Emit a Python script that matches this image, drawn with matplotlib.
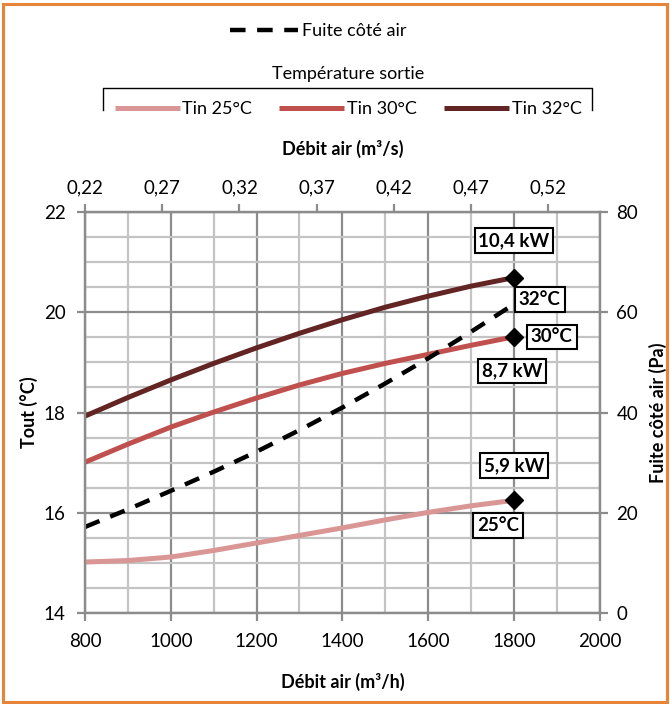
import matplotlib
matplotlib.use("Agg")
import matplotlib.pyplot as plt
from matplotlib.lines import Line2D
from matplotlib.patches import Rectangle
from matplotlib.ticker import MultipleLocator, FuncFormatter

plt.rcParams['font.family'] = ['Lato', 'DejaVu Sans']

# debit d'air (m3/h) et temperatures de sortie (degC)
debit = [800, 900, 1000, 1100, 1200, 1300, 1400, 1500, 1600, 1700, 1800]
tout_25 = [15.02, 15.05, 15.12, 15.25, 15.40, 15.55, 15.70, 15.86, 16.01, 16.14, 16.25]
tout_30 = [17.01, 17.37, 17.71, 18.01, 18.29, 18.55, 18.78, 18.98, 19.16, 19.34, 19.51]
tout_32 = [17.93, 18.30, 18.65, 18.98, 19.29, 19.58, 19.85, 20.10, 20.32, 20.52, 20.69]
# perte de charge cote air (Pa)
fuite_air = [17.2, 20.7, 24.4, 28.2, 32.2, 36.5, 41.0, 45.8, 50.8, 56.1, 61.6]

puissances = ['5,9 kW', '8,7 kW', '10,4 kW']
tin_labels = ['25°C', '30°C', '32°C']
couleurs = ['#D99694', '#C0504D', '#632523']

fig = plt.figure(figsize=(6.7, 7.04), dpi=100)
ax = fig.add_axes([0.127, 0.129, 0.768, 0.570])
ax2 = ax.twinx()

gris_major = '#8c8c8c'
gris_minor = '#c4c4c4'

ax.set_xlim(800, 2000)
ax.set_ylim(14, 22)
ax2.set_ylim(0, 80)
ax.xaxis.set_major_locator(MultipleLocator(200))
ax.xaxis.set_minor_locator(MultipleLocator(100))
ax.yaxis.set_major_locator(MultipleLocator(2))
ax.yaxis.set_minor_locator(MultipleLocator(0.5))
ax2.yaxis.set_major_locator(MultipleLocator(20))
ax.grid(which='minor', color=gris_minor, lw=1.6)
ax.grid(which='major', color=gris_major, lw=1.6)
ax.set_axisbelow(True)

for a in (ax, ax2):
    for s in a.spines.values():
        s.set_color(gris_major)
        s.set_linewidth(1.6)
ax.tick_params(which='major', direction='out', length=6, width=1.6, color=gris_major,
               labelsize=13.5, pad=8)
ax.tick_params(which='minor', length=0)
ax2.tick_params(direction='out', length=6, width=1.6, color=gris_major, labelsize=13.5, pad=6)

# axe secondaire en m3/s
top = ax.secondary_xaxis('top', functions=(lambda q: 0.22 + (q - 800) / 3600,
                                          lambda s: 800 + (s - 0.22) * 3600))
top.set_xticks([0.22, 0.27, 0.32, 0.37, 0.42, 0.47, 0.52])
top.xaxis.set_major_formatter(FuncFormatter(lambda v, p: f'{v:.2f}'.replace('.', ',')))
top.tick_params(direction='out', length=6, width=1.6, color=gris_major, labelsize=13.5, pad=5)
top.spines['top'].set_color(gris_major)
top.set_xlabel('Débit air (m³/s)', fontsize=13, fontweight='bold', labelpad=18)

ax.set_xlabel('Débit air (m³/h)', fontsize=13, fontweight='bold', labelpad=17)
ax.set_ylabel('Tout (°C)', fontsize=13, fontweight='bold', labelpad=4)
ax2.set_ylabel('Fuite côté air (Pa)', fontsize=13, fontweight='bold', labelpad=8)

lignes = []
for serie, c, tin in zip([tout_25, tout_30, tout_32], couleurs, tin_labels):
    l, = ax.plot(debit, serie, color=c, lw=3.6, solid_capstyle='butt', label='Tin ' + tin)
    ax.plot(debit[-1], serie[-1], 'D', color='black', ms=9.5, zorder=5)
    lignes.append(l)

fuite, = ax2.plot(debit, fuite_air, color='black', lw=3.2, dashes=(3.5, 2.6),
                  label='Fuite côté air')

boite = dict(boxstyle='square,pad=0.2', fc='white', ec='black', lw=1.5)
txt = dict(fontsize=13.5, fontweight='bold', zorder=6)
# puissances au-dessus / en dessous du point final
ax.annotate(puissances[2], (debit[-1], tout_32[-1]), xytext=(0, 37), textcoords='offset pixels',
            ha='center', va='center', bbox=boite, **txt)
ax.annotate(puissances[1], (debit[-1], tout_30[-1]), xytext=(-2, -34), textcoords='offset pixels',
            ha='center', va='center', bbox=boite, **txt)
ax.annotate(puissances[0], (debit[-1], tout_25[-1]), xytext=(0, 35), textcoords='offset pixels',
            ha='center', va='center', bbox=boite, **txt)
# temperatures d'entree
ax.annotate(tin_labels[2], (debit[-1], tout_32[-1]), xytext=(5, -22), textcoords='offset pixels',
            ha='left', va='center', bbox=boite, **txt)
ax.annotate(tin_labels[1], (debit[-1], tout_30[-1]), xytext=(17, 0), textcoords='offset pixels',
            ha='left', va='center', bbox=boite, **txt)
ax.annotate(tin_labels[0], (debit[-1], tout_25[-1]), xytext=(-16, -25), textcoords='offset pixels',
            ha='center', va='center', bbox=boite, **txt)

# legendes
fig.legend(handles=[fuite], loc='center', bbox_to_anchor=(318 / 670, 1 - 31 / 704),
           frameon=False, fontsize=13, handlelength=3.8, handletextpad=0.2,
           borderaxespad=0, borderpad=0)
leg = fig.legend(handles=lignes, loc='upper center', ncol=3, bbox_to_anchor=(348 / 670, 1 - 66 / 704),
                 frameon=False, fontsize=13, title='Température sortie', title_fontsize=13,
                 handlelength=3.6, handletextpad=0.15, columnspacing=1.5,
                 borderaxespad=0, borderpad=0)
leg._legend_box.sep = 14

# crochet autour des series
x0, x1 = 103 / 670, 592 / 670
y0, y1 = 1 - 88 / 704, 1 - 110 / 704
fig.add_artist(Line2D([x0, x0, x1, x1], [y1, y0, y0, y1], transform=fig.transFigure,
                      color='black', lw=1))

fig.add_artist(Rectangle((0.004, 0.003), 0.992, 0.992, transform=fig.transFigure,
                         fill=False, ec='#E8833A', lw=2.2))

fig.savefig('out.png', dpi=100)
